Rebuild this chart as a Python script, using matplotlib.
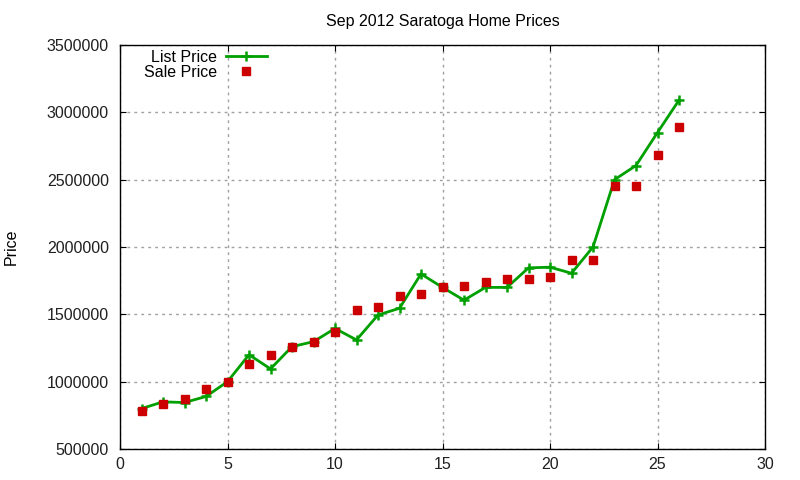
import matplotlib
matplotlib.use("Agg")
import matplotlib.pyplot as plt

plt.rcParams['font.family'] = ['Liberation Sans', 'DejaVu Sans']

days = list(range(1, 27))
list_price = [800000, 850000, 845000, 890000, 1000000, 1200000, 1095000, 1260000,
              1297000, 1395000, 1310000, 1495000, 1545000, 1800000, 1700000, 1605000,
              1700000, 1700000, 1845000, 1850000, 1805000, 2000000, 2500000, 2605000,
              2850000, 3090000]
sale_price = [785000, 833000, 873000, 947000, 1000000, 1132000, 1198000, 1260000,
              1297000, 1371000, 1532000, 1556000, 1638000, 1652000, 1705000, 1712000,
              1742000, 1762000, 1762000, 1779000, 1903000, 1903000, 2453000, 2453000,
              2683000, 2891000]
x_ticks = [0, 5, 10, 15, 20, 25, 30]
y_ticks = [500000, 1000000, 1500000, 2000000, 2500000, 3000000, 3500000]

fig = plt.figure(figsize=(8, 4.8), dpi=100)
ax = fig.add_axes([0.15, 0.0646, 0.80625, 0.8417])

ax.plot(days, list_price, color='#00a000', lw=2, marker='+', ms=7.5, mew=1.8,
        label='List Price', zorder=3)
ax.plot(days, sale_price, ls='none', color='#cc0000', marker='s', ms=6,
        label='Sale Price', zorder=4)

ax.set_xlim(0, 30)
ax.set_ylim(500000, 3500000)
ax.set_xticks(x_ticks)
ax.set_yticks(y_ticks)
ax.set_xticklabels([str(v) for v in x_ticks])
ax.set_yticklabels([str(v) for v in y_ticks])
ax.tick_params(direction='in', top=True, right=True, length=4.5, labelsize=11.5,
               labelcolor='#202020')
ax.tick_params(axis='y', pad=8)
ax.tick_params(axis='x', pad=6)
ax.grid(True, color='#a0a0a0', ls=(0, (2, 3)), lw=1)
for s in ax.spines.values():
    s.set_linewidth(1)

ax.set_title('Sep 2012 Saratoga Home Prices', fontsize=11.5, pad=14)
ax.set_ylabel('Price', fontsize=11.5, labelpad=20)

leg = ax.legend(loc='upper right', bbox_to_anchor=(0.228, 0.988), frameon=False,
                markerfirst=False, fontsize=11.5, handlelength=2.6,
                handletextpad=0.55, labelspacing=0.0, borderaxespad=0.0,
                borderpad=0.0)
for t in leg.get_texts():
    t.set_ha('right')

fig.savefig('out.png', dpi=100)
